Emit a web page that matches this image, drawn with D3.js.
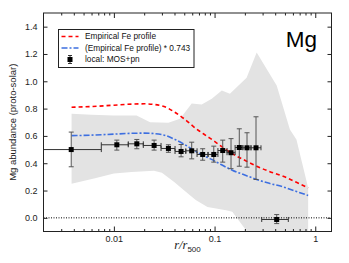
<!DOCTYPE html>
<html>
<head>
<meta charset="utf-8">
<script src="https://cdn.jsdelivr.net/npm/d3@7"></script>
<style>
  body { margin: 0; background: #fff; }
  svg { display: block; font-family: "Liberation Sans", Arial, sans-serif; }
</style>
</head>
<body>
<svg id="chart" width="349" height="263"></svg>
<script>
// Measured Mg abundance (local: MOS+pn)
const radius   = [0.00377, 0.0107, 0.0169, 0.0251, 0.0348, 0.0465, 0.0593, 0.0762, 0.0982, 0.1205, 0.1457, 0.176, 0.21, 0.258, 0.414];
const abund    = [0.50, 0.535, 0.542, 0.53, 0.508, 0.486, 0.491, 0.464, 0.464, 0.493, 0.477, 0.515, 0.513, 0.513, -0.012];
const abundLo  = [0.374, 0.496, 0.506, 0.496, 0.48, 0.447, 0.432, 0.422, 0.408, 0.408, 0.36, 0.378, 0.371, 0.281, -0.042];
const abundHi  = [0.628, 0.569, 0.574, 0.569, 0.535, 0.537, 0.554, 0.506, 0.525, 0.569, 0.58, 0.652, 0.623, 0.74, 0.024];
const radiusLo = [0.0005, 0.0075, 0.0139, 0.0196, 0.0294, 0.0405, 0.0518, 0.067, 0.0861, 0.108, 0.133, 0.16, 0.191, 0.23, 0.294];
const radiusHi = [0.0075, 0.0139, 0.0196, 0.0294, 0.0405, 0.0518, 0.067, 0.0861, 0.108, 0.133, 0.16, 0.191, 0.23, 0.289, 0.54];

// Empirical Fe profile
const feR = [0.0038, 0.006, 0.01, 0.015, 0.02, 0.03, 0.04, 0.05, 0.065, 0.084, 0.1, 0.116, 0.15, 0.208, 0.262, 0.35, 0.48, 0.65, 0.85];
const feV = [0.81, 0.815, 0.825, 0.833, 0.835, 0.82, 0.775, 0.725, 0.655, 0.598, 0.56, 0.525, 0.47, 0.415, 0.378, 0.34, 0.305, 0.26, 0.22];
const feScale = 0.743;

// grey scatter band
const bandUpperR = [0.0038, 0.006, 0.01, 0.0168, 0.0229, 0.0348, 0.0454, 0.0593, 0.0745, 0.0938, 0.118, 0.142, 0.208, 0.262, 0.414, 0.56, 0.65, 0.85];
const bandUpperV = [0.762, 0.755, 0.75, 0.75, 0.70, 0.697, 0.726, 0.838, 0.83, 0.872, 0.933, 0.909, 1.026, 1.21, 0.97, 0.647, 0.574, 0.22];
const bandLowerR = [0.0038, 0.0065, 0.01, 0.015, 0.025, 0.03, 0.04, 0.05, 0.065, 0.085, 0.13, 0.15, 0.21, 0.85];
const bandLowerV = [0.25, 0.29, 0.325, 0.335, 0.345, 0.33, 0.26, 0.2, 0.13, 0.08, 0.055, 0.045, -0.1, -0.3];

const xTicks = [0.01, 0.1, 1];
const yTicks = [0, 0.2, 0.4, 0.6, 0.8, 1.0, 1.2, 1.4];
const legendLabels = ["Empirical Fe profile", "(Empirical Fe profile) * 0.743", "local: MOS+pn"];

const svg = d3.select("#chart");
const pLeft = 43.5, pRight = 331.5, pTop = 13, pBottom = 231.5;

const x = d3.scaleLog().domain([0.002, 1.45]).range([pLeft, pRight]);
const y = d3.scaleLinear().domain([-0.1, 1.5]).range([pBottom, pTop]);

svg.append("defs").append("clipPath").attr("id", "plot")
  .append("rect").attr("x", pLeft).attr("y", pTop)
  .attr("width", pRight - pLeft).attr("height", pBottom - pTop);

const plot = svg.append("g").attr("clip-path", "url(#plot)");

// band polygon: upper edge forward, lower edge back
const bandPts = bandUpperR.map((r, i) => [r, bandUpperV[i]])
  .concat(bandLowerR.map((r, i) => [r, bandLowerV[i]]).reverse());
plot.append("path")
  .attr("d", d3.line().x(d => x(d[0])).y(d => y(d[1]))(bandPts) + "Z")
  .attr("fill", "#e3e3e3");

// zero line
plot.append("line")
  .attr("x1", pLeft).attr("x2", pRight).attr("y1", y(0)).attr("y2", y(0))
  .attr("stroke", "#000").attr("stroke-width", 1).attr("stroke-dasharray", "1,1.5");

const feLine = d3.line().x(d => x(d[0])).y(d => y(d[1])).curve(d3.curveMonotoneX);
plot.append("path")
  .attr("d", feLine(feR.map((r, i) => [r, feV[i]])))
  .attr("fill", "none").attr("stroke", "#ff0000").attr("stroke-width", 1.6)
  .attr("stroke-dasharray", "4,3");
plot.append("path")
  .attr("d", feLine(feR.map((r, i) => [r, feV[i] * feScale])))
  .attr("fill", "none").attr("stroke", "#3d6fe0").attr("stroke-width", 1.6)
  .attr("stroke-dasharray", "6,2,2,2");

// error bars
const pts = radius.map((r, i) => ({ r, v: abund[i], lo: abundLo[i], hi: abundHi[i], rl: radiusLo[i], rh: radiusHi[i] }));
const eb = plot.append("g").attr("stroke", "#333").attr("stroke-width", 1);
const cap = 2.5;
pts.forEach(d => {
  const cx = x(d.r), cy = y(d.v);
  eb.append("line").attr("x1", x(d.rl)).attr("x2", x(d.rh)).attr("y1", cy).attr("y2", cy);
  eb.append("line").attr("x1", x(d.rl)).attr("x2", x(d.rl)).attr("y1", cy - cap).attr("y2", cy + cap);
  eb.append("line").attr("x1", x(d.rh)).attr("x2", x(d.rh)).attr("y1", cy - cap).attr("y2", cy + cap);
  eb.append("line").attr("x1", cx).attr("x2", cx).attr("y1", y(d.lo)).attr("y2", y(d.hi)).attr("stroke", "#555");
  eb.append("line").attr("x1", cx - cap).attr("x2", cx + cap).attr("y1", y(d.lo)).attr("y2", y(d.lo)).attr("stroke", "#555");
  eb.append("line").attr("x1", cx - cap).attr("x2", cx + cap).attr("y1", y(d.hi)).attr("y2", y(d.hi)).attr("stroke", "#555");
});
plot.append("g").selectAll("rect").data(pts).join("rect")
  .attr("x", d => x(d.r) - 2.5).attr("y", d => y(d.v) - 2.5)
  .attr("width", 5).attr("height", 5).attr("fill", "#000");

// axes (ticks inside, all four sides)
const minor = [];
for (let e = -3; e <= 0; e++) for (let m = 2; m <= 9; m++) {
  const v = m * Math.pow(10, e);
  if (v > 0.002 && v < 1.45) minor.push(v);
}
const styleAxis = g => {
  g.select(".domain").remove();
  g.selectAll("line").attr("stroke", "#222");
  g.selectAll("text").attr("fill", "#222").style("font-size", "9px")
    .style("font-family", "'Liberation Sans', Arial, sans-serif");
};
svg.append("g").attr("transform", `translate(0,${pBottom})`)
  .call(d3.axisBottom(x).tickValues(xTicks).tickFormat(d3.format("")).tickSizeInner(-5).tickSizeOuter(0).tickPadding(4))
  .call(styleAxis);
svg.append("g").attr("transform", `translate(0,${pBottom})`)
  .call(d3.axisBottom(x).tickValues(minor).tickFormat("").tickSizeInner(-2.5).tickSizeOuter(0))
  .call(styleAxis);
svg.append("g").attr("transform", `translate(0,${pTop})`)
  .call(d3.axisTop(x).tickValues(xTicks).tickFormat("").tickSizeInner(-5).tickSizeOuter(0))
  .call(styleAxis);
svg.append("g").attr("transform", `translate(0,${pTop})`)
  .call(d3.axisTop(x).tickValues(minor).tickFormat("").tickSizeInner(-2.5).tickSizeOuter(0))
  .call(styleAxis);
svg.append("g").attr("transform", `translate(${pLeft},0)`)
  .call(d3.axisLeft(y).tickValues(yTicks).tickFormat(d3.format(".1f")).tickSizeInner(-4).tickSizeOuter(0).tickPadding(6))
  .call(styleAxis);
svg.append("g").attr("transform", `translate(${pRight},0)`)
  .call(d3.axisRight(y).tickValues(yTicks).tickFormat("").tickSizeInner(-4).tickSizeOuter(0))
  .call(styleAxis);

svg.append("rect").attr("x", pLeft).attr("y", pTop)
  .attr("width", pRight - pLeft).attr("height", pBottom - pTop)
  .attr("fill", "none").attr("stroke", "#222").attr("stroke-width", 1);

// axis titles
svg.append("text")
  .attr("transform", `translate(16,${(pTop + pBottom) / 2}) rotate(-90)`)
  .attr("text-anchor", "middle").style("font-size", "9.5px").attr("fill", "#222")
  .text("Mg abundance (proto-solar)");
const xl = svg.append("text").attr("x", (pLeft + pRight) / 2).attr("y", 249)
  .attr("text-anchor", "middle").attr("fill", "#222");
xl.append("tspan").style("font-family", "'Liberation Serif', serif").style("font-style", "italic")
  .style("font-size", "12.5px").text("r/r");
xl.append("tspan").attr("dy", 3).style("font-size", "8px").text("500");

svg.append("text").attr("x", 317).attr("y", 46.5).attr("text-anchor", "end")
  .style("font-size", "22.5px").attr("fill", "#000").text("Mg");

// legend
const lg = svg.append("g");
lg.append("rect").attr("x", 58.5).attr("y", 29.5).attr("width", 135.5).attr("height", 38)
  .attr("fill", "#fff").attr("stroke", "#222").attr("stroke-width", 1);
const rowY = [36.5, 48, 59.5];
lg.append("line").attr("x1", 61.5).attr("x2", 78.5).attr("y1", rowY[0]).attr("y2", rowY[0])
  .attr("stroke", "#ff0000").attr("stroke-width", 1.6).attr("stroke-dasharray", "4,3");
lg.append("line").attr("x1", 61.5).attr("x2", 78.5).attr("y1", rowY[1]).attr("y2", rowY[1])
  .attr("stroke", "#3d6fe0").attr("stroke-width", 1.6).attr("stroke-dasharray", "6,2,2,2");
lg.append("line").attr("x1", 70).attr("x2", 70).attr("y1", rowY[2] - 4).attr("y2", rowY[2] + 4).attr("stroke", "#333");
lg.append("line").attr("x1", 68).attr("x2", 72).attr("y1", rowY[2] - 4).attr("y2", rowY[2] - 4).attr("stroke", "#333");
lg.append("line").attr("x1", 68).attr("x2", 72).attr("y1", rowY[2] + 4).attr("y2", rowY[2] + 4).attr("stroke", "#333");
lg.append("rect").attr("x", 67.5).attr("y", rowY[2] - 2.5).attr("width", 5).attr("height", 5).attr("fill", "#000");
lg.selectAll("text.lab").data(legendLabels).join("text").attr("class", "lab")
  .attr("x", 85).attr("y", (d, i) => rowY[i]).attr("dy", "0.35em")
  .style("font-size", "8.3px").attr("fill", "#111").text(d => d);
</script>
</body>
</html>
